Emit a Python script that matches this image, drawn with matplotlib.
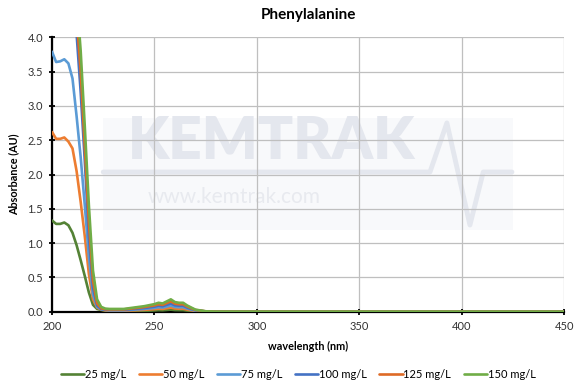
import matplotlib
matplotlib.use("Agg")
import matplotlib.pyplot as plt
from matplotlib.patches import Rectangle

plt.rcParams['font.family'] = ['Lato', 'DejaVu Sans']

# wavelength grid (nm)
wavelength = [200, 202, 204, 206, 208, 210, 212, 214, 216, 218, 220, 222, 224, 226, 228,
              230, 235, 240, 245, 250, 252, 254, 256, 258, 260, 262, 264, 266, 268, 270,
              275, 280, 300, 350, 400, 450]

# absorbance (AU) per concentration
a_25 = [1.33, 1.28, 1.28, 1.30, 1.26, 1.15, 0.97, 0.75, 0.52, 0.28, 0.10, 0.04, 0.025, 0.015, 0.01,
        0.01, 0.008, 0.01, 0.013, 0.018, 0.022, 0.02, 0.025, 0.03, 0.023, 0.022, 0.022, 0.015, 0.01, 0.005,
        0.0, 0.0, 0.0, 0.0, 0.0, 0.0]
a_50 = [2.62, 2.52, 2.52, 2.54, 2.48, 2.38, 2.05, 1.60, 1.10, 0.55, 0.18, 0.06, 0.03, 0.02, 0.015,
        0.015, 0.015, 0.02, 0.027, 0.037, 0.043, 0.04, 0.05, 0.06, 0.047, 0.043, 0.043, 0.03, 0.02, 0.01,
        0.002, 0.0, 0.0, 0.0, 0.0, 0.0]
a_75 = [3.79, 3.64, 3.65, 3.68, 3.62, 3.40, 2.85, 2.25, 1.55, 0.80, 0.25, 0.07, 0.035, 0.025, 0.02,
        0.02, 0.02, 0.03, 0.04, 0.055, 0.065, 0.06, 0.075, 0.09, 0.07, 0.065, 0.065, 0.045, 0.03, 0.015,
        0.003, 0.0, 0.0, 0.0, 0.0, 0.0]
a_100 = [5.2, 5.1, 5.0, 4.9, 4.8, 4.6, 4.05, 3.20, 2.20, 1.10, 0.35, 0.09, 0.04, 0.03, 0.027,
         0.027, 0.027, 0.04, 0.053, 0.073, 0.087, 0.08, 0.10, 0.12, 0.093, 0.087, 0.087, 0.06, 0.04, 0.02,
         0.004, 0.0, 0.0, 0.0, 0.0, 0.0]
a_125 = [5.4, 5.3, 5.2, 5.1, 5.0, 4.8, 4.30, 3.50, 2.40, 1.30, 0.45, 0.12, 0.05, 0.035, 0.033,
         0.033, 0.033, 0.05, 0.067, 0.092, 0.108, 0.10, 0.125, 0.15, 0.117, 0.108, 0.108, 0.075, 0.05, 0.025,
         0.005, 0.0, 0.0, 0.0, 0.0, 0.0]
a_150 = [5.6, 5.5, 5.4, 5.3, 5.2, 5.0, 4.60, 3.80, 2.70, 1.55, 0.60, 0.18, 0.07, 0.045, 0.04,
         0.04, 0.04, 0.06, 0.08, 0.11, 0.13, 0.12, 0.15, 0.18, 0.14, 0.13, 0.13, 0.09, 0.06, 0.03,
         0.006, 0.0, 0.0, 0.0, 0.0, 0.0]

series = [a_25, a_50, a_75, a_100, a_125, a_150]
labels = ['25 mg/L', '50 mg/L', '75 mg/L', '100 mg/L', '125 mg/L', '150 mg/L']
colors = ['#548235', '#ED7D31', '#5B9BD5', '#4472C4', '#DE6A26', '#70AD47']

fig = plt.figure(figsize=(5.87, 3.90), dpi=100)
ax = fig.add_axes([0.0886, 0.2008, 0.8725, 0.7035])

# faint watermark (logo) behind the grid
wm = '#e4e7ee'
ax.add_patch(Rectangle((0.10, 0.297), 0.80, 0.408, transform=ax.transAxes,
                       facecolor='#f8f9fb', edgecolor='none', zorder=0.1))
ax.text(0.428, 0.62, 'KEMTRAK', transform=ax.transAxes, ha='center', va='center',
        fontsize=42, fontweight='heavy', color=wm, zorder=0.2)
ax.text(0.355, 0.418, 'www.kemtrak.com', transform=ax.transAxes, ha='center', va='center',
        fontsize=15, color='#e8eaef', zorder=0.2)
wave_x = [0.10, 0.738, 0.771, 0.816, 0.842, 0.898]
wave_y = [0.509, 0.509, 0.688, 0.316, 0.509, 0.509]
ax.plot(wave_x, wave_y, transform=ax.transAxes, color=wm, lw=3.5, zorder=0.2,
        solid_joinstyle='round', solid_capstyle='round')

for vals, lab, col in zip(series, labels, colors):
    ax.plot(wavelength, vals, color=col, lw=1.9, label=lab, zorder=3,
            solid_joinstyle='round', solid_capstyle='round')

ax.set_xlim(200, 450)
ax.set_ylim(0, 4)
ax.set_xticks([200, 250, 300, 350, 400, 450])
ax.set_yticks([0, 0.5, 1, 1.5, 2, 2.5, 3, 3.5, 4])
ax.set_yticklabels(['0.0', '0.5', '1.0', '1.5', '2.0', '2.5', '3.0', '3.5', '4.0'])

ax.set_axisbelow(True)
ax.grid(True, color='#bfbfbf', lw=0.9)
for s in ['top', 'right']:
    ax.spines[s].set_visible(False)
for s in ['left', 'bottom']:
    ax.spines[s].set_linewidth(1.6)
    ax.spines[s].set_color('black')
ax.tick_params(direction='inout', length=5, width=1.3, labelsize=8,
               labelcolor='#333333', pad=4)

ax.set_title('Phenylalanine', fontsize=11, fontweight='bold', pad=13)
ax.set_xlabel('wavelength (nm)', fontsize=7.8, fontweight='bold', labelpad=7)
ax.set_ylabel('Absorbance (AU)', fontsize=7.8, fontweight='bold', labelpad=6)

fig.legend(loc='center', bbox_to_anchor=(0.508, 0.041), ncol=6, frameon=False,
           fontsize=8, handlelength=2.1, handletextpad=0.05, columnspacing=1.15)

fig.savefig('out.png', dpi=100)
